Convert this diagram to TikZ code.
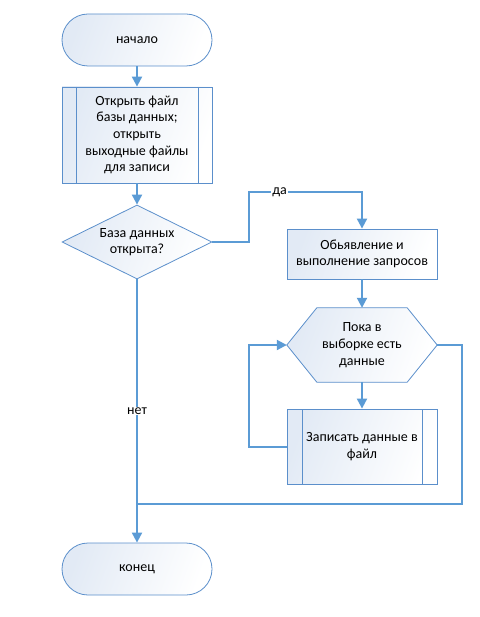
\documentclass[tikz,border=0pt]{standalone}
\usepackage{fontspec}
\setmainfont{Carlito}
\usetikzlibrary{arrows.meta,shapes.geometric}
\definecolor{conn}{HTML}{5B9BD5}
\definecolor{bord}{HTML}{5B8FCB}
\definecolor{fillL}{HTML}{E2EAF5}
\tikzset{
  base/.style={draw=bord, line width=0.8bp, left color=fillL, right color=white, shading angle=70,
    font=\fontsize{14bp}{16.7bp}\selectfont, align=center, inner sep=0pt},
  term/.style={base, rectangle, rounded corners=26bp, minimum width=150bp, minimum height=52bp},
  proc/.style={base, rectangle, minimum width=150bp},
  predef/.style={proc, path picture={
      \draw[bord, line width=0.8bp] ([xshift=#1]path picture bounding box.north west) -- ([xshift=#1]path picture bounding box.south west);
      \draw[bord, line width=0.8bp] ([xshift=-#1]path picture bounding box.north east) -- ([xshift=-#1]path picture bounding box.south east);}},
  decision/.style={base, diamond, aspect=2, minimum width=150bp, minimum height=74bp},
  hexbox/.style={rectangle, minimum width=150bp, minimum height=74bp, inner sep=0pt, align=center,
    font=\fontsize{14bp}{16.7bp}\selectfont},
  hexshape/.style={draw=bord, line width=0.8bp, left color=fillL, right color=white, shading angle=70},
  conn/.style={draw=conn, line width=2bp, -{Triangle[length=10bp,width=10bp]}},
  plain/.style={draw=conn, line width=2bp},
  lbl/.style={fill=white, inner sep=1bp, font=\fontsize{14bp}{16.7bp}\selectfont}
}
\begin{document}
\begin{tikzpicture}[x=1bp, y=-1bp]
\useasboundingbox (0,0) rectangle (480,617);
\node[term] (start) at (137,40) {начало};
\node[predef=14bp, minimum height=96bp] (open) at (137,135) {Открыть файл\\базы данных;\\открыть\\выходные файлы\\для записи};
\node[decision] (dbq) at (137,242) {База данных\\открыта?};
\node[proc, minimum height=50bp] (decl) at (362,254) {Обьявление и\\выполнение запросов};
\node[hexbox] (hex) at (362,345) {};
\path[hexshape] (hex.west) -- ([xshift=30bp]hex.north west) -- ([xshift=-30bp]hex.north east) -- (hex.east)
  -- ([xshift=-30bp]hex.south east) -- ([xshift=30bp]hex.south west) -- cycle;
\node[hexbox] at (hex.center) {Пока в\\выборке есть\\данные};
\node[predef=15bp, minimum height=75bp] (write) at (362,446.5) {Записать данные в\\файл};
\node[term] (end) at (137,569) {конец};

\coordinate (ya1) at (249,192);
\coordinate (ya2) at (362,192);
\coordinate (lp) at (249,446.5);
\coordinate (rp) at (462,504);
\coordinate (join) at (137,504);

\draw[conn] (start) -- (open);
\draw[conn] (open) -- (dbq);
\draw[conn] (dbq.east) -| (ya1) -- node[lbl, pos=0.27] {да} (ya2) -- (decl.north);
\draw[conn] (decl) -- (hex.north);
\draw[conn] (hex.south) -- (write);
\draw[conn] (write.west) -- (lp) |- (hex.west);
\draw[plain] (hex.east) -| (rp) -- (join);
\draw[conn] (dbq.south) -- node[lbl, pos=0.5] {нет} (end.north);
\end{tikzpicture}
\end{document}
